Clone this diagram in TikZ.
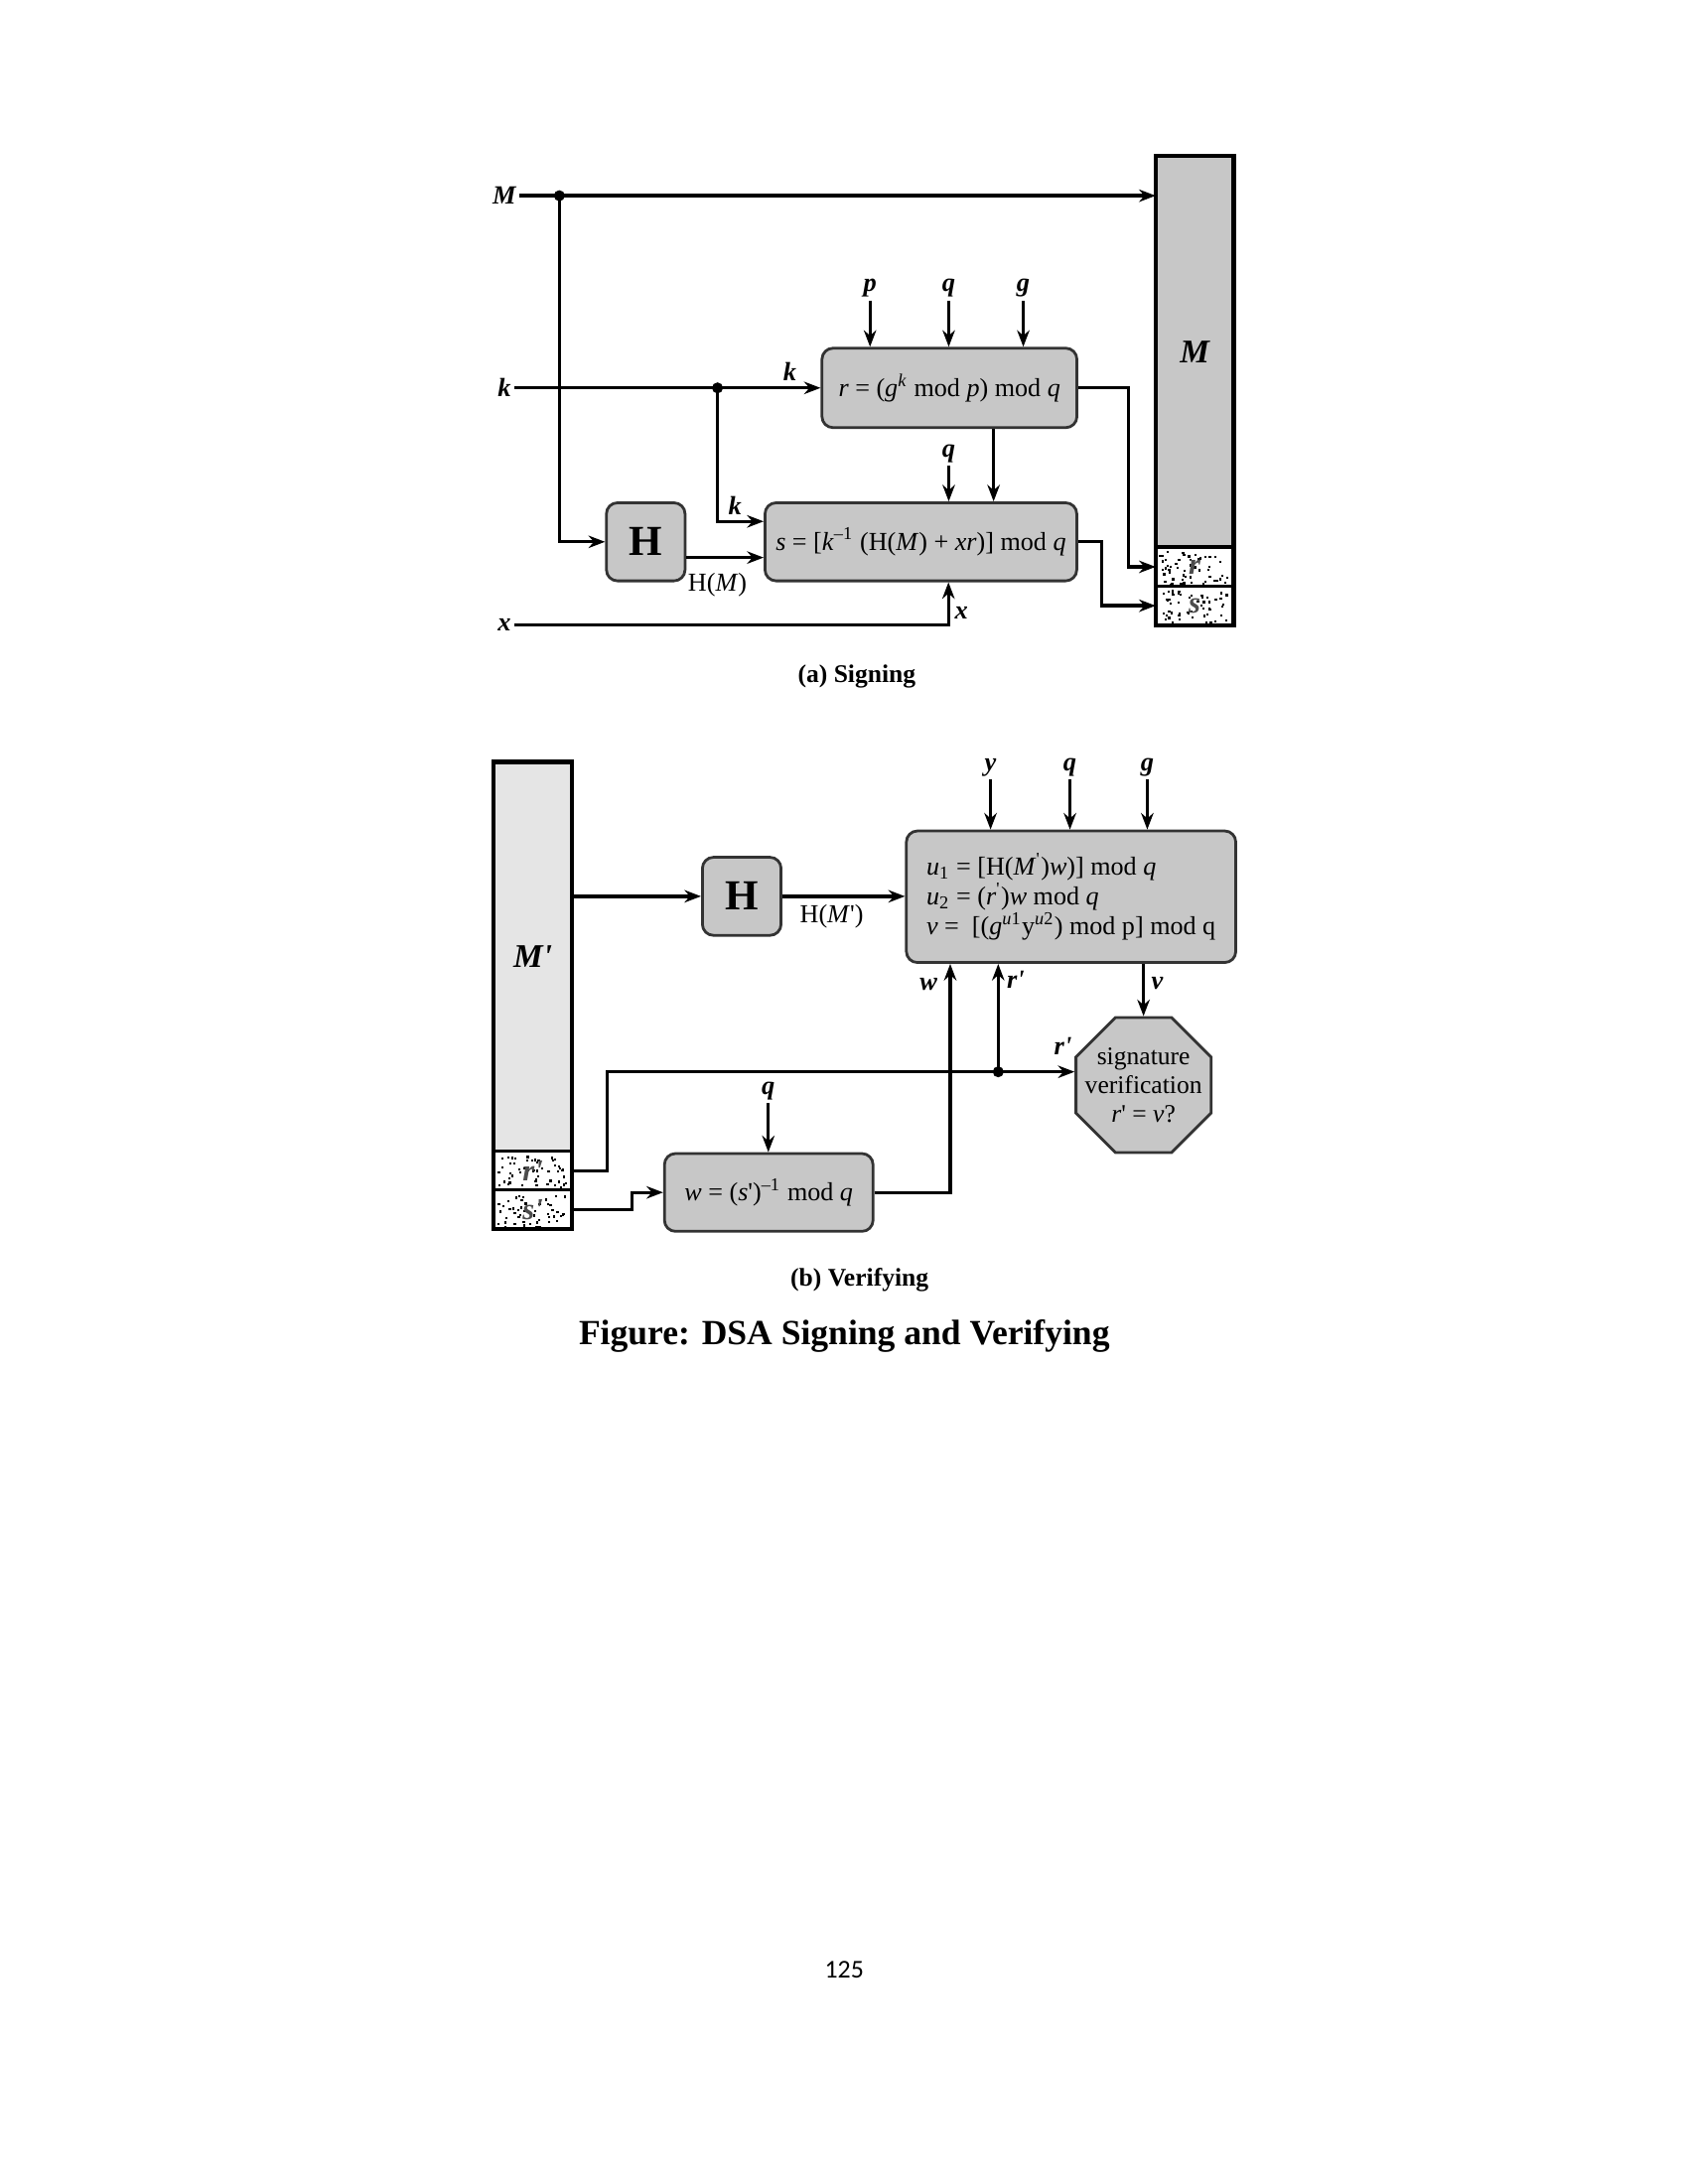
\documentclass[tikz,border=0pt]{standalone}
\usepackage{fontspec}
\setmainfont{Liberation Serif}
\newfontfamily\pagefont{Carlito}
\usetikzlibrary{arrows.meta,shapes.geometric}

\newcommand\pr{\textquotesingle}

\begin{document}
\begin{tikzpicture}[x=0.505pt, y=-0.505pt, >={Stealth[length=6pt,width=4.5pt]},
    every node/.style={font=\fontsize{9.4}{10.8}\selectfont},
    proc/.style={draw=black!80, fill=black!22, line width=1pt, rounded corners=4pt, inner sep=0pt},
    hashbox/.style={proc, minimum width=28.5pt, minimum height=28.3pt, font=\bfseries\fontsize{15.5}{15.5}\selectfont},
    docbox/.style={draw, line width=1.5pt, inner sep=0pt, outer sep=0pt, minimum width=28.3pt, anchor=north, font=\bfseries\itshape\fontsize{12}{12}\selectfont},
    cell/.style={docbox, line width=1.1pt, fill=white, minimum height=14.1pt},
    celltext/.style={inner sep=0pt, text=black!70, font=\bfseries\itshape\fontsize{11}{11}\selectfont},
    vlabel/.style={inner sep=1pt, font=\bfseries\itshape\fontsize{9.5}{9.5}\selectfont},
    flow/.style={->, line width=1.2pt}]

  % 画像全体の大きさ
  \useasboundingbox (0,0) rectangle (1212,1568);

  % ===== (a) 署名 =====
  % 入力
  \node[vlabel] (Min) at (362,140.5) {M};
  \node[vlabel] (kin) at (362,278.5) {k};
  \node[vlabel] (xin) at (362,448.5) {x};

  % 署名付きメッセージ (M, r, s)
  \node[docbox, fill=black!22, minimum height=141.9pt] (Mdoc) at (857.5,112) {M};
  \node[cell] (rcell) at (Mdoc.south) {};
  \node[cell] (scell) at (rcell.south) {};

  % 演算ブロック
  \node[proc, minimum width=92.4pt, minimum height=28.8pt] (rcalc) at (681.5,278.5)
    {\textit{r} = (\textit{g}\textsuperscript{\textit{k}} mod \textit{p}) mod \textit{q}};
  \node[proc, minimum width=113pt, minimum height=28.3pt] (scalc) at (661,389)
    {\textit{s} = [\textit{k}\textsuperscript{--1} (H(\textit{M}) + \textit{xr})] mod \textit{q}};
  \node[hashbox] (hsign) at (463.5,389) {H};

  % 公開パラメータ p, q, g
  \node[vlabel] (pin) at (624.5,207) {p};
  \node[vlabel] (qin) at (681,207) {q};
  \node[vlabel] (gin) at (734.5,207) {g};
  \draw[flow] (pin) -- (pin |- rcalc.north);
  \draw[flow] (qin) -- (qin |- rcalc.north);
  \draw[flow] (gin) -- (gin |- rcalc.north);
  \node[vlabel] (qs) at (681,325.5) {q};
  \draw[flow] (qs) -- (qs |- scalc.north);

  % 配線
  \coordinate (Mfork) at (401.5,140.5);
  \coordinate (kfork) at (515,278.5);
  \draw[flow] (Min) -- (Min -| Mdoc.west);
  \draw[flow] (Mfork) |- (hsign.west);
  \draw[flow] (kin) -- (rcalc.west);
  \draw[flow] (kfork) |- ([yshift=7.4pt]scalc.west);
  \draw[flow] ([yshift=-5.7pt]hsign.east) -- ([yshift=-5.7pt]scalc.west);
  \draw[flow] ([xshift=16pt]rcalc.south) -- ([xshift=16pt]rcalc.south |- scalc.north);
  \draw[flow] (rcalc.east) -- ++(36,0) |- (rcell.west);
  \draw[flow] (scalc.east) -- ++(17,0) |- (scell.west);
  \draw[flow] (xin) -| ([xshift=10pt]scalc.south);
  \fill (Mfork) circle (2pt) (kfork) circle (2pt);

  % 線のラベル
  \node[vlabel] (kr) at (567,267) {k};
  \node[vlabel] (ks) at (527.5,363) {k};
  \node[vlabel] (xs) at (690,440) {x};
  \node (hm) at (515,420) {H(\textit{M})};

  \node[font=\bfseries\fontsize{9.2}{11}\selectfont] (capa) at (615,486) {(a) Signing};

  % ===== (b) 検証 =====
  % 受信メッセージ (M', r', s')
  \node[docbox, fill=black!10, minimum height=141.2pt] (Mpdoc) at (382.5,547) {M\pr};
  \node[cell] (rpcell) at (Mpdoc.south) {};
  \node[cell] (spcell) at (rpcell.south) {};

  % 演算ブロック
  \node[hashbox] (hver) at (532.4,643.5) {H};
  \node[proc, minimum width=119.4pt, minimum height=47.7pt, align=left] (ucalc) at (768.8,643.8)
    {\textit{u}\textsubscript{1} = [H(\textit{M}\textsuperscript{\pr})\textit{w})] mod \textit{q}\\
     \textit{u}\textsubscript{2} = (\textit{r}\textsuperscript{\pr})\textit{w} mod \textit{q}\\
     \textit{v} = \ [(\textit{g}\textsuperscript{\textit{u}1}y\textsuperscript{\textit{u}2}) mod p] mod q};
  \node[proc, minimum width=75.6pt, minimum height=28.2pt] (wcalc) at (551.8,856.1)
    {\textit{w} = (\textit{s}\pr)\textsuperscript{--1} mod \textit{q}};
  \node[regular polygon, regular polygon sides=8, draw=black!80, fill=black!22, line width=1pt,
    minimum size=53pt, inner sep=0pt] (octo) at (820.8,779) {};
  \node[align=center, font=\fontsize{9.2}{10.5}\selectfont] (octotxt) at (octo)
    {signature\\verification\\\textit{r}\pr\ = \textit{v}?};

  % 公開パラメータ y, q, g
  \node[vlabel] (yin) at (711,551) {y};
  \node[vlabel] (qv) at (768,551) {q};
  \node[vlabel] (gv) at (823.5,551) {g};
  \draw[flow] (yin) -- (yin |- ucalc.north);
  \draw[flow] (qv) -- (qv |- ucalc.north);
  \draw[flow] (gv) -- (gv |- ucalc.north);
  \node[vlabel] (qw) at (551.5,783) {q};
  \draw[flow] (qw) -- (qw |- wcalc.north);

  % 配線
  \coordinate (rpfork) at (716.5,769.5);
  \draw[flow] (Mpdoc.east |- hver.west) -- (hver.west);
  \draw[flow] (hver.east) -- (hver.east -| ucalc.west);
  \draw[flow] (rpcell.east) -- ++(25.5,0) |- (rpfork) -- (rpfork -| octo.west);
  \draw[flow] (rpfork) -- (rpfork |- ucalc.south);
  \draw[flow] (spcell.east) -- ++(43,0) |- (wcalc.west);
  \draw[flow] (wcalc.east) -| ([xshift=-43.8pt]ucalc.south);
  \draw[flow] (octo.north |- ucalc.south) -- (octo.north);
  \fill (rpfork) circle (2pt);

  % 線のラベル
  \node[vlabel] (wl) at (666.6,707) {w};
  \node[vlabel] (rpl) at (729,703.5) {r\pr};
  \node[vlabel] (vl) at (830.6,706) {v};
  \node[vlabel] (rpo) at (763,751) {r\pr};
  \node (hmp) at (597,658) {H(\textit{M}\pr)};

  \node[font=\bfseries\fontsize{9.2}{11}\selectfont] (capb) at (617,919) {(b) Verifying};

  % 砂目模様と欄の文字
  \pgfmathsetseed{7}
  \foreach \cx/\cy in {832/395, 832/423, 357/829, 357/858} {
    \foreach \i in {1,...,55} {
      \fill ({\cx+49*rnd},{\cy+24*rnd}) rectangle ++(1.6,1.6);
    }
  }
  \node[celltext] (rtxt) at (rcell) {r};
  \node[celltext] (stxt) at (scell) {s};
  \node[celltext] (rptxt) at (rpcell) {r\pr};
  \node[celltext] (sptxt) at (spcell) {s\pr};
  \draw[line width=1.5pt] (Mdoc.north west) rectangle (scell.south east);
  \draw[line width=1.5pt] (Mpdoc.north west) rectangle (spcell.south east);

  % 図題とページ番号
  \node[font=\bfseries\fontsize{12.8}{15}\selectfont] (figcap) at (606,959) {Figure: DSA Signing and Verifying};
  \node[font=\pagefont\fontsize{9.3}{11}\selectfont] (pageno) at (606,1414) {125};

\end{tikzpicture}
\end{document}
